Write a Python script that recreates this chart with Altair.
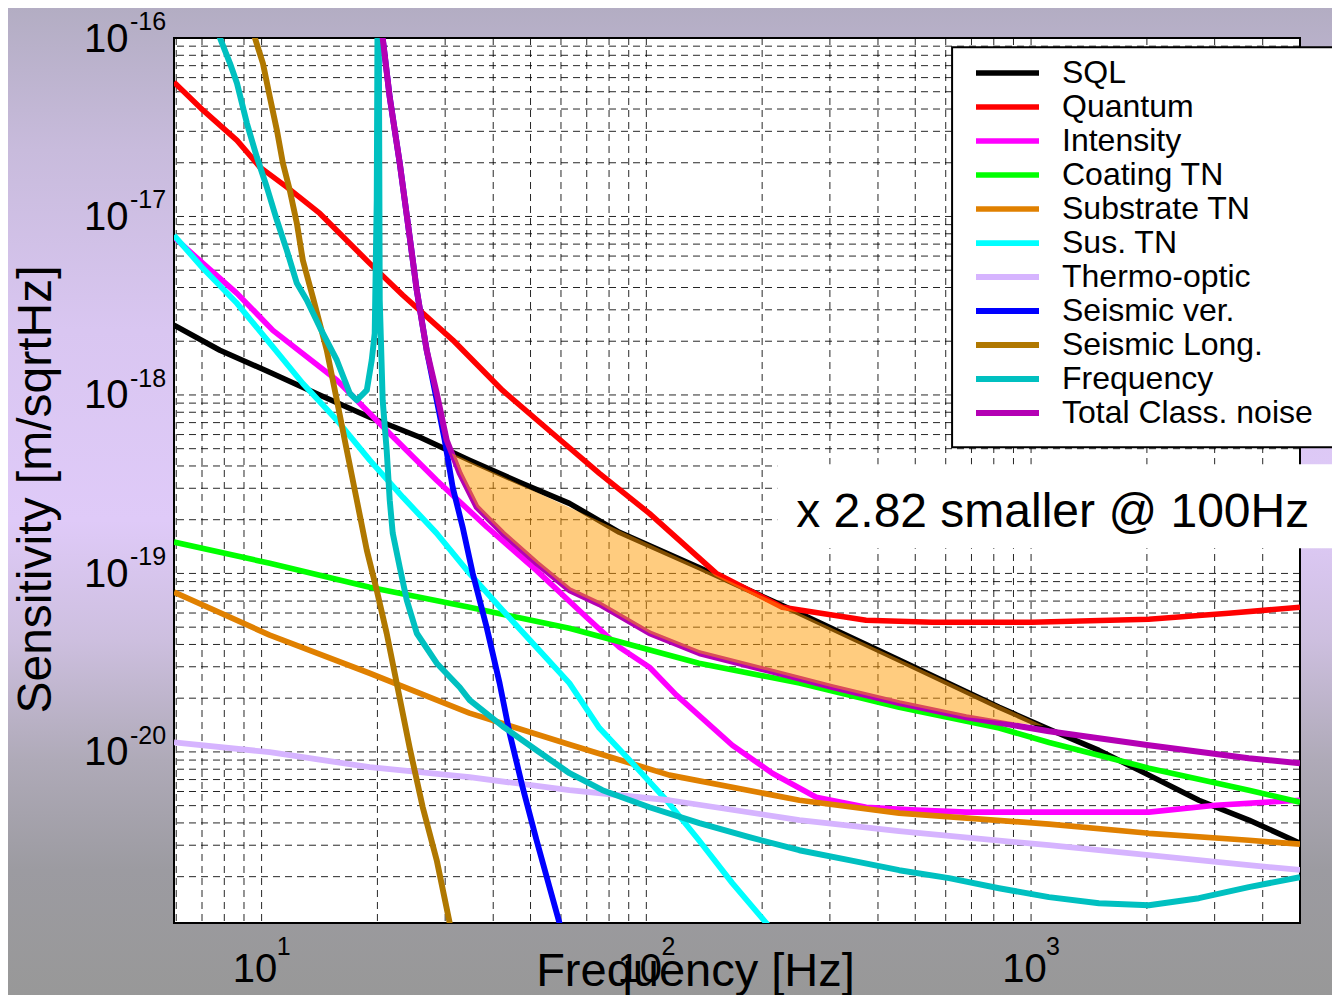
import altair as alt
import pandas as pd

# ---------------- data ----------------
names = ["SQL", "Quantum", "Intensity", "Coating TN", "Substrate TN", "Sus. TN",
         "Thermo-optic", "Seismic ver.", "Seismic Long.", "Frequency", "Total Class. noise"]

sql_f = [5.92, 7.79, 10.5, 14.2, 19.1, 25.8, 34.7, 46.8, 63.1, 85.1, 137, 250, 454, 826, 1114, 1501, 2024, 2730, 3681, 5000]
sql_s = [2.46e-18, 1.78e-18, 1.34e-18, 9.96e-19, 7.50e-19, 5.79e-19, 4.31e-19, 3.24e-19, 2.47e-19, 1.70e-19,
         1.08e-19, 5.98e-20, 3.27e-20, 1.78e-20, 1.34e-20, 1.02e-20, 7.41e-21, 5.36e-21, 4.15e-21, 3.08e-21]

quant_f = [5.92, 7.04, 8.63, 9.90, 11.63, 14.17, 19.1, 23.3, 31.4, 42.3, 57.0, 75.5, 101.8, 152, 225.5, 372.5,
           552.7, 1005, 2022, 3262, 5000]
quant_s = [5.65e-17, 3.94e-17, 2.67e-17, 1.89e-17, 1.46e-17, 1.04e-17, 5.46e-18, 3.62e-18, 2.03e-18, 1.06e-18,
           6.10e-19, 3.64e-19, 2.17e-19, 1.00e-19, 6.46e-20, 5.47e-20, 5.33e-20, 5.33e-20, 5.54e-20, 5.98e-20, 6.46e-20]

inten_f = [5.92, 7.04, 8.63, 10.7, 15.7, 21.1, 28.5, 38.5, 51.8, 69.9, 85.1, 101.9, 119.7, 167.3, 212.5, 276.4,
           372.8, 502.5, 677.7, 1113, 2023, 3021, 5000]
inten_s = [7.65e-18, 5.46e-18, 3.71e-18, 2.30e-18, 1.21e-18, 6.34e-19, 3.33e-19, 1.82e-19, 1.04e-19, 5.68e-20,
           3.86e-20, 2.98e-20, 2.08e-20, 1.09e-20, 7.60e-21, 5.57e-21, 4.90e-21, 4.72e-21, 4.60e-21, 4.60e-21,
           4.60e-21, 5.03e-21, 5.36e-21]

coat_f = [5.92, 10.5, 19.1, 34.7, 63.1, 137, 250, 454, 826, 1114, 2024, 3681, 5000]
coat_s = [1.50e-19, 1.14e-19, 8.37e-20, 6.46e-20, 4.93e-20, 3.14e-20, 2.43e-20, 1.78e-20, 1.36e-20, 1.13e-20,
          8.11e-21, 6.10e-21, 5.23e-21]

subs_f = [5.92, 10.5, 19.1, 34.7, 63.1, 114.8, 250, 454, 1114, 2024, 3681, 5000]
subs_s = [7.85e-20, 4.51e-20, 2.76e-20, 1.65e-20, 1.10e-20, 7.41e-21, 5.36e-21, 4.54e-21, 3.94e-21, 3.50e-21,
          3.20e-21, 3.04e-21]

sus_f = [5.92, 7.04, 8.63, 10.5, 12.8, 15.7, 19.1, 23.3, 28.5, 34.7, 42.3, 51.8, 63.1, 75.5, 92.0, 112.8, 137,
         167.3, 205, 215]
sus_s = [7.84e-18, 5.12e-18, 3.26e-18, 1.95e-18, 1.16e-18, 7.22e-19, 4.31e-19, 2.67e-19, 1.68e-19, 1.00e-19,
         6.22e-20, 3.86e-20, 2.43e-20, 1.36e-20, 8.65e-21, 5.36e-21, 3.20e-21, 1.84e-21, 1.10e-21, 9.5e-22]

thermo_f = [5.92, 10.5, 19.1, 34.7, 63.1, 114.8, 250, 454, 1114, 2024, 3681, 5000]
thermo_s = [1.13e-20, 9.97e-21, 8.21e-21, 7.22e-21, 6.10e-21, 5.36e-21, 4.15e-21, 3.60e-21, 3.00e-21, 2.64e-21,
            2.32e-21, 2.18e-21]

sver_f = [20.34, 20.64, 21.53, 22.86, 24.27, 25.31, 26.86, 28.52, 29.92, 31.38, 33.31, 35.37, 38.45, 41.56, 44.12,
          47.69, 51.84, 56.03, 59.47, 60.55]
sver_s = [1.256e-16, 1.0e-16, 4.653e-17, 1.986e-17, 7.645e-18, 3.859e-18, 1.780e-18, 9.340e-19, 5.574e-19,
          3.041e-19, 1.815e-19, 1.003e-19, 4.995e-20, 2.426e-20, 1.273e-20, 6.343e-21, 3.201e-21, 1.746e-21,
          1.098e-21, 9.4e-22]

slong_f = [9.05, 9.608, 10.08, 10.51, 10.96, 11.36, 11.84, 12.35, 12.80, 13.59, 14.77, 15.69, 16.65, 17.68, 18.77,
           19.92, 21.14, 22.45, 24.27, 26.23, 28.52, 30.83, 31.38]
slong_s = [1.52e-16, 1.0e-16, 7.216e-17, 4.653e-17, 3.041e-17, 1.986e-17, 1.402e-17, 9.161e-18, 5.683e-18,
           3.528e-18, 1.780e-18, 9.340e-19, 4.899e-19, 2.570e-19, 1.349e-19, 8.051e-20, 4.623e-20, 2.426e-20,
           1.049e-20, 4.899e-21, 2.473e-21, 1.098e-21, 9.4e-22]

freq_f = [7.475, 7.795, 8.276, 8.630, 9.158, 9.723, 10.32, 10.96, 11.63, 12.35, 13.11, 14.17, 15.69, 16.95, 17.68,
          18.77, 19.33, 19.68, 19.92, 20.10, 20.22, 20.28, 20.64, 21.14, 21.53, 21.92, 22.86, 23.84, 25.31, 28.52,
          32.72, 34.74, 42.31, 51.84, 63.15, 76.91, 101.9, 137.4, 185.2, 249.7, 336.8, 454.0, 612.2, 825.4, 1113,
          1501, 2024, 2729, 3679, 5000]
freq_s = [1.256e-16, 1.0e-16, 7.216e-17, 5.574e-17, 3.327e-17, 2.146e-17, 1.458e-17, 9.522e-18, 6.463e-18,
          4.224e-18, 3.394e-18, 2.394e-18, 1.565e-18, 1.022e-18, 9.340e-19, 1.063e-18, 1.565e-18, 2.217e-18,
          1.232e-17, 1.0e-15, 2.349e-17, 3.394e-18, 9.340e-19, 4.899e-19, 2.570e-19, 1.680e-19, 1.083e-19,
          7.077e-20, 4.623e-20, 3.140e-20, 2.304e-20, 1.949e-20, 1.393e-20, 1.022e-20, 7.599e-21, 6.101e-21,
          4.899e-21, 3.987e-21, 3.327e-21, 2.813e-21, 2.473e-21, 2.174e-21, 1.961e-21, 1.723e-21, 1.535e-21,
          1.420e-21, 1.384e-21, 1.515e-21, 1.746e-21, 1.987e-21]

total_f = [20.34, 20.64, 21.53, 22.86, 24.27, 25.31, 26.86, 28.52, 30.28, 32.72, 36.23, 42.31, 51.84, 63.15,
           75.54, 101.9, 137.4, 205.0, 304.2, 454.0, 677.6, 1113, 2024, 3679, 5000]
total_s = [1.256e-16, 1.0e-16, 4.653e-17, 1.986e-17, 7.645e-18, 3.859e-18, 1.780e-18, 1.022e-18, 5.574e-19,
           3.641e-19, 2.349e-19, 1.680e-19, 1.141e-19, 8.051e-20, 6.721e-20, 4.623e-20, 3.571e-20, 2.869e-20,
           2.304e-20, 1.875e-20, 1.565e-20, 1.306e-20, 1.090e-20, 9.221e-21, 8.644e-21]

# shaded gain region between SQL (upper) and total classical noise (lower)
gain_f = [31.19, 32.72, 36.23, 42.31, 51.84, 63.15, 75.54, 101.9, 137.4, 205.0, 304.2, 454.0, 677.6, 1080]
gain_hi = [4.713e-19, 4.499e-19, 4.070e-19, 3.489e-19, 2.850e-19, 2.343e-19, 1.961e-19, 1.458e-19, 1.083e-19,
           7.280e-20, 4.925e-20, 3.306e-20, 2.219e-20, 1.398e-20]
gain_lo = [4.713e-19, 3.641e-19, 2.349e-19, 1.680e-19, 1.141e-19, 8.051e-20, 6.721e-20, 4.623e-20, 3.571e-20,
           2.869e-20, 2.304e-20, 1.875e-20, 1.565e-20, 1.398e-20]

# grid / tick values
x_grid = [6, 7, 8, 9, 10, 20, 30, 40, 50, 60, 70, 80, 90, 100, 200, 300, 400, 500, 600, 700, 800, 900,
          1000, 2000, 3000, 4000]
y_grid = [2e-21, 3e-21, 4e-21, 5e-21, 6e-21, 7e-21, 8e-21, 9e-21,
          1e-20, 2e-20, 3e-20, 4e-20, 5e-20, 6e-20, 7e-20, 8e-20, 9e-20,
          1e-19, 2e-19, 3e-19, 4e-19, 5e-19, 6e-19, 7e-19, 8e-19, 9e-19,
          1e-18, 2e-18, 3e-18, 4e-18, 5e-18, 6e-18, 7e-18, 8e-18, 9e-18,
          1e-17, 2e-17, 3e-17, 4e-17, 5e-17, 6e-17, 7e-17, 8e-17, 9e-17]
x_major = [10, 100, 1000]
x_exp = ["1", "2", "3"]
y_major = [1e-16, 1e-17, 1e-18, 1e-19, 1e-20]
y_exp = ["-16", "-17", "-18", "-19", "-20"]

# annotation boxes (data coordinates)
note_text = ["x 2.82 smaller @ 100Hz"]
note_f = [245.3]
note_s = [1.815e-19]
notebox_f = [219.0, 7100.0]
notebox_s = [4.091e-19, 1.384e-19]
legbox_f = [623.3, 7100.0]
legbox_s = [8.87e-17, 5.093e-19]

# ---------------- styles ----------------
colors = ["#000000", "#ff0000", "#ff00ff", "#00ff00", "#e08000", "#00ffff",
          "#d6b4ff", "#0000ff", "#b07800", "#00c0c0", "#b400b4"]
widths = [5.5, 6, 5.5, 5.5, 5.5, 5.5, 6, 4, 5.5, 6, 6]
FONT = "Liberation Sans"
W, H = 1126, 885
PAD = {"left": 166, "top": 30, "right": 32, "bottom": 72}

fl = [sql_f, quant_f, inten_f, coat_f, subs_f, sus_f, thermo_f, sver_f, slong_f, freq_f, total_f]
sl = [sql_s, quant_s, inten_s, coat_s, subs_s, sus_s, thermo_s, sver_s, slong_s, freq_s, total_s]
rows = []
for nm, fs, ss in zip(names, fl, sl):
    for f, s in zip(fs, ss):
        rows.append({"series": nm, "f": f, "s": s})
lines_df = pd.DataFrame(rows)
gain_df = pd.DataFrame({"f": gain_f, "hi": gain_hi, "lo": gain_lo})

xs = alt.Scale(type="log", domain=[5.92, 5000], nice=False)
ys = alt.Scale(type="log", domain=[1.1e-21, 1e-16], nice=False)
one = pd.DataFrame({"k": [0]})

xaxis = alt.Axis(values=x_major, labelExpr="'10'", grid=False, ticks=False, domain=False,
                 labelFont=FONT, labelFontSize=40, labelColor="black", labelPadding=46,
                 labelOffset=-7, labelBaseline="middle", labelAlign="center",
                 labelFlush=False, labelOverlap=False, labelBound=False,
                 title="Frequency [Hz]", titleFont=FONT, titleFontSize=47, titleFontWeight="normal",
                 titleColor="black", titleX=521, titleY=62, titleAlign="center",
                 titleBaseline="alphabetic", zindex=1)
yaxis = alt.Axis(values=y_major, labelExpr="'10'", grid=False, ticks=False, domain=False,
                 labelFont=FONT, labelFontSize=40, labelColor="black", labelPadding=46,
                 labelOffset=1, labelBaseline="middle", labelAlign="right",
                 labelFlush=False, labelOverlap=False, labelBound=False,
                 title="Sensitivity [m/sqrtHz]", titleFont=FONT, titleFontSize=48,
                 titleFontWeight="normal", titleColor="black", titleAngle=270,
                 titleX=-124, titleY=451, titleAlign="center", titleBaseline="alphabetic", zindex=1)


def X(field):
    return alt.X(field, scale=xs, axis=xaxis)


def Y(field):
    return alt.Y(field, scale=ys, axis=yaxis)


grad = alt.LinearGradient(
    gradient="linear", x1=0, x2=0, y1=0, y2=1,
    stops=[alt.GradientStop(offset=0.0, color="#b3adc3"),
           alt.GradientStop(offset=0.144, color="#c8bbdc"),
           alt.GradientStop(offset=0.326, color="#d9c6f1"),
           alt.GradientStop(offset=0.519, color="#dfcaf8"),
           alt.GradientStop(offset=0.640, color="#cdbfdf"),
           alt.GradientStop(offset=0.762, color="#afaab8"),
           alt.GradientStop(offset=0.873, color="#9c9ba1"),
           alt.GradientStop(offset=1.0, color="#989898")])

bg = alt.Chart(one).mark_rect(color=grad, clip=False).encode(
    x=alt.value(-PAD["left"]), x2=alt.value(W + PAD["right"]),
    y=alt.value(-PAD["top"]), y2=alt.value(H + PAD["bottom"]))

plotbg = alt.Chart(one).mark_rect(color="white").encode(
    x=alt.value(0), x2=alt.value(W), y=alt.value(0), y2=alt.value(H))

vgrid = alt.Chart(pd.DataFrame({"g": x_grid})).mark_rule(
    color="black", strokeWidth=1, strokeDash=[7, 5], opacity=0.85).encode(x=X("g:Q"))
hgrid = alt.Chart(pd.DataFrame({"g": y_grid})).mark_rule(
    color="black", strokeWidth=1, strokeDash=[7, 5], opacity=0.85).encode(y=Y("g:Q"))

border = alt.Chart(one).mark_rect(fill="transparent", stroke="black", strokeWidth=2).encode(
    x=alt.value(0), x2=alt.value(W), y=alt.value(0), y2=alt.value(H))

notebox = alt.Chart(pd.DataFrame({"f": [notebox_f[0]], "f2": [notebox_f[1]],
                                  "s": [notebox_s[0]], "s2": [notebox_s[1]]})).mark_rect(
    color="white", clip=False).encode(x=X("f:Q"), x2="f2:Q", y=Y("s:Q"), y2="s2:Q")

legbox = alt.Chart(pd.DataFrame({"f": [legbox_f[0]], "f2": [legbox_f[1]],
                                 "s": [legbox_s[0]], "s2": [legbox_s[1]]})).mark_rect(
    fill="white", stroke="black", strokeWidth=2, clip=False).encode(
    x=X("f:Q"), x2="f2:Q", y=Y("s:Q"), y2="s2:Q")

legend = alt.Legend(title=None, orient="none", legendX=799, legendY=18, symbolType="stroke",
                    symbolSize=3969, symbolStrokeWidth=7, symbolOpacity=1,
                    labelFont=FONT, labelFontSize=32, labelColor="black", labelOffset=20,
                    labelLimit=600, clipHeight=34, rowPadding=0, padding=0,
                    fillColor="transparent", strokeColor="transparent")

lines = alt.Chart(lines_df).mark_line(clip=True, strokeJoin="round", strokeCap="butt").encode(
    x=X("f:Q"), y=Y("s:Q"),
    color=alt.Color("series:N", scale=alt.Scale(domain=names, range=colors), legend=legend),
    strokeWidth=alt.StrokeWidth("series:O", scale=alt.Scale(domain=names, range=widths), legend=None),
)

gain = alt.Chart(gain_df).mark_area(color="#ff9900", opacity=0.5, clip=True).encode(
    x=X("f:Q"), y=Y("hi:Q"), y2="lo:Q")

note = alt.Chart(pd.DataFrame({"f": note_f, "s": note_s, "t": note_text})).mark_text(
    align="left", baseline="alphabetic", fontSize=48, font=FONT, color="black").encode(
    x=X("f:Q"), y=Y("s:Q"), text="t:N")

xexp = alt.Chart(pd.DataFrame({"v": x_major, "t": x_exp})).mark_text(
    align="center", baseline="middle", dx=22, dy=24, fontSize=25, font=FONT, color="black").encode(
    x=X("v:Q"), y=alt.value(H), text="t:N")

yexp = alt.Chart(pd.DataFrame({"v": y_major, "t": y_exp})).mark_text(
    align="left", baseline="middle", dx=-44, dy=-16, fontSize=25, font=FONT, color="black").encode(
    y=Y("v:Q"), x=alt.value(0), text="t:N")

chart = alt.layer(bg, plotbg, vgrid, hgrid, border, notebox, legbox, lines, gain, note, xexp, yexp).properties(
    width=W, height=H, padding=PAD,
    autosize=alt.AutoSizeParams(type="none"),
).configure(font=FONT).configure_view(stroke="transparent")

chart.save("out.html", embed_options={"renderer": "svg", "actions": False})
